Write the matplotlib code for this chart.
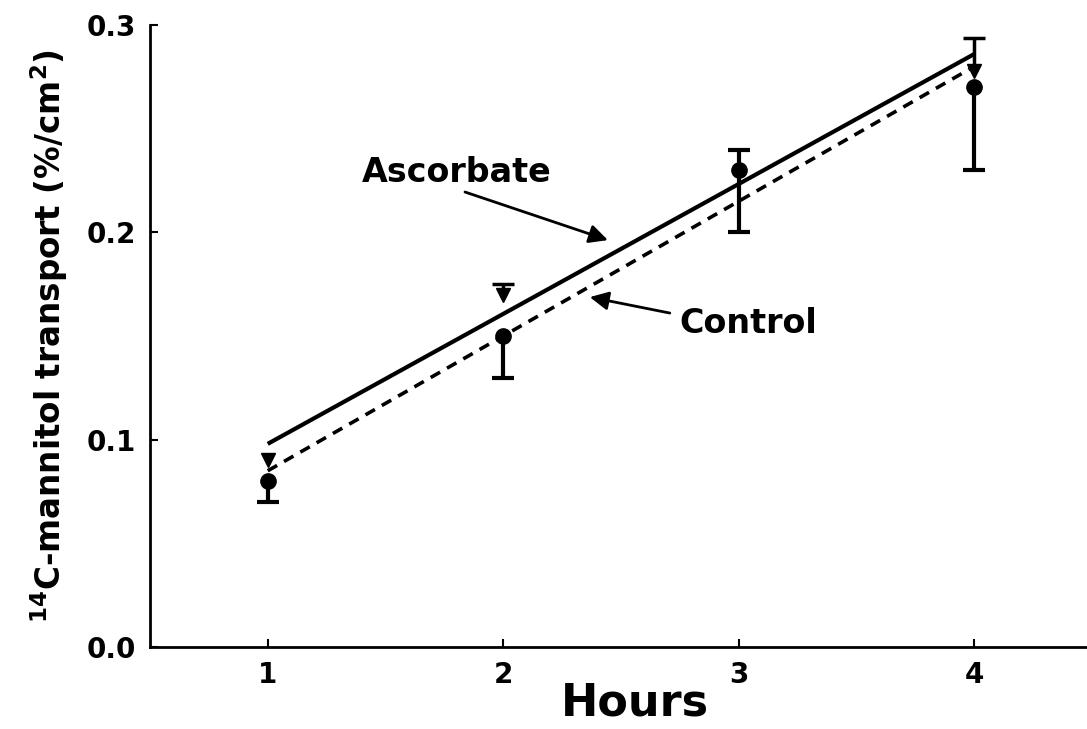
import matplotlib.pyplot as plt

# data
hours = [1, 2, 3, 4]

control_mean = [0.080, 0.150, 0.230, 0.270]
control_err_low = [0.010, 0.020, 0.030, 0.040]
control_err_high = [0.000, 0.000, 0.010, 0.000]

asc_hours = [1, 2, 4]
asc_mean = [0.090, 0.170, 0.278]
asc_err_low = [0.0, 0.0, 0.0]
asc_err_high = [0.0, 0.005, 0.016]

# regression line endpoints
fit_hours = [1, 4]
asc_fit = [0.098, 0.286]
control_fit = [0.085, 0.280]

plt.rcParams['font.family'] = ['DejaVu Sans']
plt.rcParams['font.weight'] = 'bold'


def one_sided_errors(ax, xs, ys, lows, highs, lw=3, cap=16):
    """Draw error bars, skipping the sides that have no error."""
    for x, y, lo, hi in zip(xs, ys, lows, highs):
        if lo > 0:
            ax.vlines(x, y - lo, y, color='black', lw=lw, zorder=4)
            ax.plot([x], [y - lo], marker='_', color='black', ms=cap,
                    mew=lw, zorder=4)
        if hi > 0:
            ax.vlines(x, y, y + hi, color='black', lw=lw, zorder=4)
            ax.plot([x], [y + hi], marker='_', color='black', ms=cap,
                    mew=lw, zorder=4)


fig = plt.figure(figsize=(10.87, 7.29), dpi=100)
ax = fig.add_axes([0.138, 0.1125, 0.862, 0.853])

ax.plot(fit_hours, asc_fit, color='black', lw=3, solid_capstyle='butt')
ax.plot(fit_hours, control_fit, color='black', lw=2.6, ls=(0, (3, 2.2)))

one_sided_errors(ax, hours, control_mean, control_err_low, control_err_high)
one_sided_errors(ax, asc_hours, asc_mean, asc_err_low, asc_err_high, lw=2.5)
ax.plot(hours, control_mean, 'o', color='black', ms=11, zorder=5)
ax.plot(asc_hours, asc_mean, 'v', color='black', ms=10, zorder=5)

ax.text(1.40, 0.229, 'Ascorbate', fontsize=24, fontweight='bold',
        ha='left', va='center')
ax.annotate('', xy=(2.445, 0.1963), xytext=(1.838, 0.2195),
            arrowprops=dict(arrowstyle='-|>', color='black', lw=2,
                            mutation_scale=28, shrinkA=0, shrinkB=0))
ax.text(2.75, 0.1563, 'Control', fontsize=24, fontweight='bold',
        ha='left', va='center')
ax.annotate('', xy=(2.368, 0.1688), xytext=(2.708, 0.1611),
            arrowprops=dict(arrowstyle='-|>', color='black', lw=2,
                            mutation_scale=28, shrinkA=0, shrinkB=0))

ax.set_xlim(0.5, 4.48)
ax.set_ylim(0, 0.3)
ax.set_xticks(hours)
ax.set_yticks([0.0, 0.1, 0.2, 0.3])
ax.set_yticklabels(['0.0', '0.1', '0.2', '0.3'])
ax.tick_params(direction='in', length=6, width=1.5, labelsize=20, pad=10)
for lab in ax.get_xticklabels() + ax.get_yticklabels():
    lab.set_fontweight('bold')

ax.spines['top'].set_visible(False)
ax.spines['right'].set_visible(False)
ax.spines['left'].set_linewidth(2)
ax.spines['bottom'].set_linewidth(2)

ax.set_xlabel('Hours', fontsize=32, fontweight='bold')
ax.xaxis.set_label_coords(0.518, -0.056)
ax.set_ylabel('$\\mathbf{^{14}}$C-mannitol transport (%/cm$\\mathbf{^{2}}$)',
              fontsize=23.5, fontweight='bold', labelpad=12)

fig.savefig('out.png', dpi=100)
